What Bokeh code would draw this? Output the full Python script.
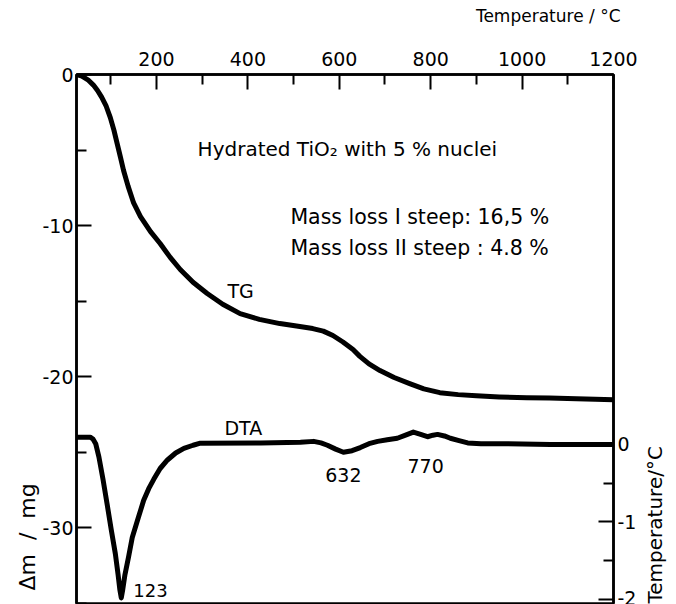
import math
from bokeh.plotting import figure
from bokeh.models import Range1d, LinearAxis, FixedTicker, Label, ColumnDataSource, Title
from bokeh.embed import file_html
from bokeh.resources import INLINE

# TG curve: temperature (deg C) vs mass change (mg)
tg_temp = [25, 35, 50, 62, 71, 80, 90, 99, 107, 114, 121, 128, 138, 150, 165, 187,
           208, 230, 252, 280, 311, 345, 383, 425, 470, 510, 542, 565, 586, 608,
           630, 645, 665, 689, 720, 754, 785, 820, 860, 900, 950, 1010, 1060, 1119,
           1160, 1200]
tg_mass = [0, -0.08, -0.35, -0.7, -1.06, -1.5, -2.1, -2.85, -3.7, -4.57, -5.45,
           -6.35, -7.4, -8.5, -9.4, -10.4, -11.18, -12.1, -12.9, -13.75, -14.49,
           -15.2, -15.82, -16.2, -16.48, -16.66, -16.81, -16.98, -17.27, -17.7,
           -18.2, -18.65, -19.15, -19.59, -20.05, -20.45, -20.8, -21.05, -21.18,
           -21.26, -21.33, -21.38, -21.41, -21.45, -21.48, -21.52]

# DTA curve: temperature (deg C) vs temperature difference (deg C)
dta_temp = [25, 55, 61, 67, 74, 83, 92, 101, 110, 116, 120, 123, 126, 131, 139, 147,
            160, 172, 183, 194, 208, 224, 242, 260, 280, 296, 428, 515, 544, 560,
            574, 592, 609, 628, 646, 665, 684, 705, 727, 745, 762, 778, 793, 805,
            815, 830, 843, 862, 881, 910, 953, 1062, 1200]
dta_diff = [0.094, 0.094, 0.07, 0.01, -0.16, -0.45, -0.77, -1.1, -1.41, -1.68, -1.88,
            -1.98, -1.88, -1.68, -1.45, -1.2, -0.95, -0.72, -0.57, -0.45, -0.31,
            -0.2, -0.11, -0.05, -0.01, 0.017, 0.02, 0.03, 0.04, 0.02, -0.01, -0.06,
            -0.10, -0.08, -0.04, 0.01, 0.04, 0.06, 0.08, 0.12, 0.16, 0.13, 0.10,
            0.12, 0.13, 0.11, 0.08, 0.05, 0.02, 0.01, 0.01, 0.0, 0.0]

x_major = [200, 400, 600, 800, 1000, 1200]
x_minor = [100, 300, 500, 700, 900, 1100]
y_major = [0, -10, -20, -30]
y_minor = [-5, -15, -25, -35]
r_major = [0, -1, -2]
r_minor = [-0.5, -1.5]

FONT = "DejaVu Sans"

p = figure(frame_width=537, frame_height=529,
           x_range=Range1d(25, 1200), y_range=Range1d(-35, 0),
           x_axis_location="above",
           min_border_left=76, min_border_top=74, min_border_right=63,
           min_border_bottom=1,
           output_backend="svg", toolbar_location=None)
p.extra_y_ranges = {"dta": Range1d(-2.052, 4.774)}
p.xgrid.visible = False
p.ygrid.visible = False
p.outline_line_color = "black"
p.outline_line_width = 2.5
p.outline_line_alpha = 1.0
p.background_fill_color = "white"
p.border_fill_color = "white"

def style_axis(ax, standoff, ticks):
    ax.major_tick_in = 15
    ax.major_tick_out = 0
    ax.minor_tick_in = 10
    ax.minor_tick_out = 0
    ax.major_tick_line_width = 2
    ax.minor_tick_line_width = 2
    ax.axis_line_width = 2.5
    ax.major_label_text_font = FONT
    ax.major_label_text_font_size = "19px"
    ax.major_label_text_color = "black"
    ax.major_label_standoff = standoff
    ax.major_label_overrides = {t: ("%g" % t) for t in ticks}
    ax.axis_label_text_font = FONT
    ax.axis_label_text_font_style = "normal"
    ax.axis_label_text_color = "black"

xa = p.xaxis[0]
xa.ticker = FixedTicker(ticks=x_major, minor_ticks=x_minor)
style_axis(xa, 9, x_major)
xa.axis_label = "\u00a0"
xa.axis_label_text_font_size = "17px"
xa.axis_label_standoff = 0

ya = p.yaxis[0]
ya.ticker = FixedTicker(ticks=y_major, minor_ticks=y_minor)
style_axis(ya, 3, y_major)

ra = LinearAxis(y_range_name="dta", ticker=FixedTicker(ticks=r_major, minor_ticks=r_minor))
style_axis(ra, 4, r_major)
ra.axis_label = "Temperature/\u00b0C"
ra.axis_label_orientation = math.pi / 2
ra.axis_label_text_font_size = "20px"
ra.axis_label_standoff = 16
try:
    ra.axis_label_align = "start"
except Exception:
    pass
p.add_layout(ra, "right")

p.add_layout(Title(text="Temperature / \u00b0C", align="right", offset=-7,
                   text_font=FONT, text_font_size="17px", text_font_style="normal",
                   text_color="black", standoff=0), "above")
p.add_layout(Title(text="\u0394m\u00a0\u00a0/\u00a0\u00a0mg", align="left", offset=13,
                   text_font=FONT, text_font_size="22px", text_font_style="normal",
                   text_color="black", standoff=0), "left")

tg_src = ColumnDataSource(dict(t=tg_temp, m=tg_mass))
dta_src = ColumnDataSource(dict(t=dta_temp, d=dta_diff))
p.line("t", "m", source=tg_src, line_color="black", line_width=5, line_join="round", line_cap="round")
p.line("t", "d", source=dta_src, y_range_name="dta", line_color="black", line_width=5,
       line_join="round", line_cap="round")

def lab(x, y, text, size="20px", align="center"):
    p.add_layout(Label(x=x, y=y, text=text, text_font=FONT, text_font_size=size,
                       text_align=align, text_baseline="middle", text_color="black"))

lab(290, -4.9, "Hydrated TiO\u2082 with 5 % nuclei", align="left")
lab(493, -9.46, "Mass loss I steep: 16,5 %", size="20.5px", align="left")
lab(493, -11.51, "Mass loss II steep : 4.8 %", size="20.5px", align="left")
lab(384, -14.32, "TG", size="19px")
lab(390, -23.42, "DTA", size="19px")
lab(609, -26.47, "632", size="19px")
lab(789, -25.87, "770", size="19px")
lab(187, -34.15, "123", size="18px")

open("out.html", "w").write(file_html(p, INLINE))
